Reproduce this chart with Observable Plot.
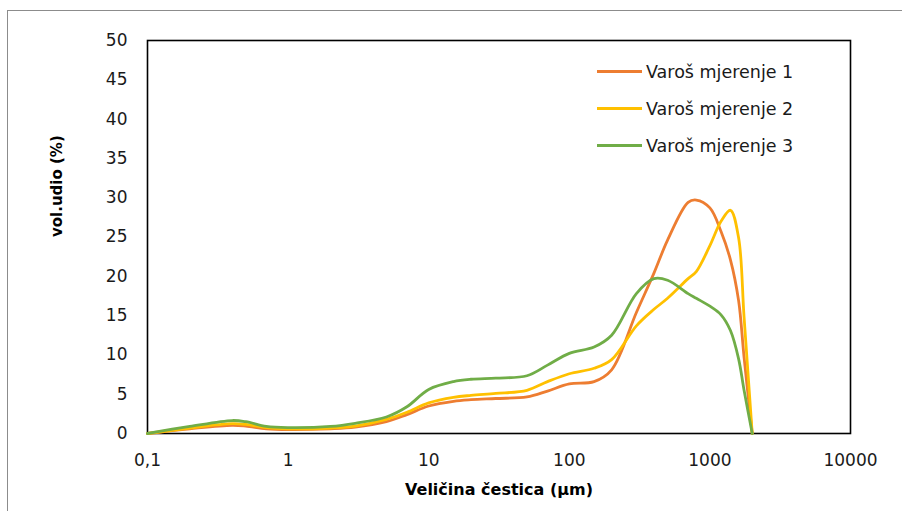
<!DOCTYPE html>
<html>
<head>
<meta charset="utf-8">
<script src="https://cdn.jsdelivr.net/npm/d3@7"></script>
<script src="https://cdn.jsdelivr.net/npm/@observablehq/plot@0.6"></script>
<style>
  html, body { margin: 0; padding: 0; background: #fff; overflow: hidden; }
  #wrap { position: relative; width: 902px; height: 511px; }
  #outer { position: absolute; left: 7px; top: 10px; width: 920px; height: 540px; border: 1px solid #8c8c8c; box-sizing: border-box; }
  #chart { position: absolute; left: 0; top: 0; }
  #legend { position: absolute; left: 597px; top: 53px; font-family: "DejaVu Sans", sans-serif; font-size: 17.5px; color: #1a1a1a; }
  .item { display: flex; align-items: center; height: 37px; }
  .swatch { width: 45px; height: 3px; margin-right: 4px; }
</style>
</head>
<body>
<div id="wrap">
  <div id="outer"></div>
  <div id="chart"></div>
  <div id="legend"></div>
</div>
<script>
// Particle size (µm)
const sizes = [0.1, 0.2, 0.4, 0.5, 0.7, 1, 2, 3, 5, 7, 10, 15, 20, 30, 50, 70, 100, 150, 200, 300, 400, 500, 700, 800, 1000, 1200, 1400, 1600, 1750, 2000];
// vol. share (%)
const mjerenje1 = [0, 0.6, 1.05, 0.95, 0.6, 0.5, 0.6, 0.8, 1.5, 2.4, 3.5, 4.1, 4.3, 4.45, 4.65, 5.4, 6.3, 6.6, 8.1, 15.4, 20.4, 24.6, 29.4, 29.7, 28.7, 25.7, 22.1, 16.9, 9.7, 0];
const mjerenje2 = [0, 0.7, 1.25, 1.15, 0.75, 0.6, 0.7, 0.95, 1.8, 2.7, 3.9, 4.6, 4.85, 5.1, 5.5, 6.6, 7.6, 8.3, 9.4, 13.7, 15.8, 17.2, 19.7, 20.6, 23.9, 27.0, 28.4, 24.9, 14.8, 0];
const mjerenje3 = [0, 0.9, 1.65, 1.5, 0.9, 0.75, 0.9, 1.3, 2.1, 3.4, 5.6, 6.6, 6.9, 7.05, 7.35, 8.7, 10.2, 11.0, 12.5, 17.8, 19.7, 19.5, 17.8, 17.2, 16.2, 15.1, 13.1, 9.5, 5.5, 0];

const seriesNames = ["Varoš mjerenje 1", "Varoš mjerenje 2", "Varoš mjerenje 3"];
const seriesColors = ["#ED7D31", "#FFC000", "#70AD47"];
const xTicks = [0.1, 1, 10, 100, 1000, 10000];
const xTickLabels = ["0,1", "1", "10", "100", "1000", "10000"];
const yTicks = [0, 5, 10, 15, 20, 25, 30, 35, 40, 45, 50];
const xTitle = "Veličina čestica (μm)";
const yTitle = "vol.udio (%)";

const allSeries = [mjerenje1, mjerenje2, mjerenje3];
const rows = [];
allSeries.forEach((vals, si) => {
  vals.forEach((v, i) => rows.push({series: seriesNames[si], x: sizes[i], y: v}));
});

const font = "DejaVu Sans, sans-serif";

const chart = Plot.plot({
  width: 902,
  height: 511,
  marginLeft: 147,
  marginRight: 52,
  marginTop: 40,
  marginBottom: 78,
  style: {fontFamily: font, background: "transparent", overflow: "visible"},
  x: {type: "log", domain: [0.1, 10000], axis: null},
  y: {domain: [0, 50], axis: null},
  color: {domain: seriesNames, range: seriesColors},
  marks: [
    Plot.frame({stroke: "#000", strokeWidth: 1.6}),
    ...seriesNames.map(name =>
      Plot.line(rows.filter(r => r.series === name), {
        x: "x", y: "y", stroke: "series", strokeWidth: 2.8, curve: "catmull-rom"
      })
    ),
    Plot.text(xTicks, {
      x: d => d, frameAnchor: "bottom", dy: 27, lineAnchor: "middle",
      text: (d, i) => xTickLabels[i], fontSize: 17, fill: "#1a1a1a"
    }),
    Plot.text(yTicks, {
      y: d => d, frameAnchor: "left", dx: -20, textAnchor: "end", lineAnchor: "middle",
      text: d => String(d), fontSize: 17, fill: "#1a1a1a"
    }),
    Plot.text([xTitle], {
      frameAnchor: "bottom", dy: 56, lineAnchor: "middle", text: d => d,
      fontSize: 16, fontWeight: "bold", fill: "#000"
    }),
    Plot.text([yTitle], {
      frameAnchor: "left", dx: -90, rotate: -90, lineAnchor: "middle", text: d => d,
      fontSize: 15, fontWeight: "bold", fill: "#000"
    })
  ]
});
document.getElementById("chart").appendChild(chart);

const legend = document.getElementById("legend");
seriesNames.forEach((name, i) => {
  const item = document.createElement("div");
  item.className = "item";
  const sw = document.createElement("div");
  sw.className = "swatch";
  sw.style.background = seriesColors[i];
  const label = document.createElement("span");
  label.textContent = name;
  item.appendChild(sw);
  item.appendChild(label);
  legend.appendChild(item);
});
</script>
</body>
</html>
